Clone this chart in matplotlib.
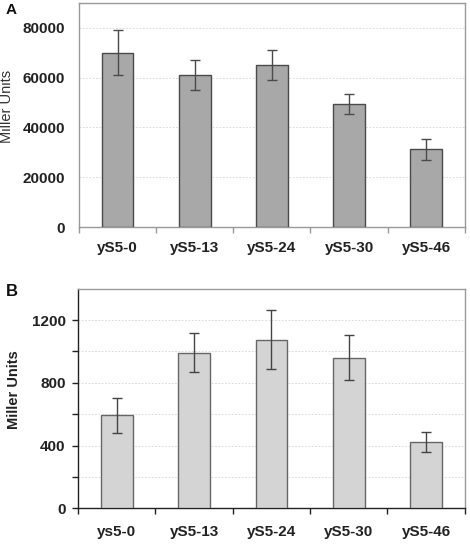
import numpy as np
import matplotlib.pyplot as plt

plt.rcParams['font.family'] = ['Liberation Sans', 'DejaVu Sans']

# panel A data
labels_a = ['yS5-0', 'yS5-13', 'yS5-24', 'yS5-30', 'yS5-46']
values_a = [70000, 61000, 65000, 49500, 31200]
errors_a = [9000, 6000, 6000, 3900, 4100]

# panel B data
labels_b = ['ys5-0', 'yS5-13', 'yS5-24', 'yS5-30', 'yS5-46']
values_b = [592, 993, 1076, 960, 420]
errors_b = [112, 124, 188, 145, 64]


def main():
	fig = plt.figure(figsize=(4.7, 5.44), dpi=100)
	ax_a = fig.add_axes([0.168, 0.5827, 0.821, 0.4118])
	ax_b = fig.add_axes([0.166, 0.0656, 0.823, 0.4037])

	x = np.arange(len(labels_a))
	spine_gray = '#999999'
	tick_style = dict(fontsize=11, fontweight='bold', color='#222222')

	# panel A
	ax_a.bar(x, values_a, width=0.41, color='#a8a8a8', edgecolor='#4a4a4a', linewidth=1.0, zorder=3)
	ax_a.errorbar(x, values_a, yerr=errors_a, fmt='none', ecolor='#4a4a4a',
		elinewidth=1.0, capsize=3.5, capthick=1.0, zorder=4)
	ax_a.set_xlim(-0.5, 4.5)
	ax_a.set_ylim(0, 90000)
	ax_a.set_yticks([0, 20000, 40000, 60000, 80000])
	ax_a.set_yticklabels(['0', '20000', '40000', '60000', '80000'], **tick_style)
	ax_a.set_xticks(x)
	ax_a.set_xticklabels(labels_a, **tick_style)
	ax_a.set_xticks(np.arange(-0.5, 5.0, 1.0), minor=True)
	ax_a.tick_params(axis='x', which='major', length=0, pad=10)
	ax_a.tick_params(axis='x', which='minor', length=4, color=spine_gray, width=1)
	ax_a.tick_params(axis='y', length=0, pad=10)
	for s in ax_a.spines.values():
		s.set_color(spine_gray)
		s.set_linewidth(1.0)
	for v in [20000, 40000, 60000, 80000]:
		ax_a.axhline(v, color='#d4d4d4', linestyle=(0, (2, 2)), linewidth=0.6, zorder=1)
	ax_a.set_ylabel('Miller Units', fontsize=10.5, color='#333333')
	ax_a.yaxis.set_label_coords(-0.168, 0.54)
	fig.text(0.012, 0.974, 'A', fontsize=11, fontweight='bold', color='#111111')

	# panel B
	ax_b.bar(x, values_b, width=0.41, color='#d4d4d4', edgecolor='#666666', linewidth=1.0, zorder=3)
	ax_b.errorbar(x, values_b, yerr=errors_b, fmt='none', ecolor='#444444',
		elinewidth=1.0, capsize=3.5, capthick=1.0, zorder=4)
	ax_b.set_xlim(-0.5, 4.5)
	ax_b.set_ylim(0, 1400)
	ax_b.set_yticks([0, 400, 800, 1200])
	ax_b.set_yticklabels(['0', '400', '800', '1200'], **tick_style)
	ax_b.set_yticks([200, 600, 1000], minor=True)
	ax_b.set_xticks(x)
	ax_b.set_xticklabels(labels_b, **tick_style)
	ax_b.set_xticks(np.arange(-0.5, 5.0, 1.0), minor=True)
	ax_b.tick_params(axis='x', which='major', length=0, pad=12)
	ax_b.tick_params(axis='x', which='minor', length=4, color='#222222', width=1)
	ax_b.tick_params(axis='y', which='both', length=4, color='#222222', width=1, pad=5)
	ax_b.spines['top'].set_color(spine_gray)
	ax_b.spines['right'].set_color(spine_gray)
	ax_b.spines['left'].set_color('#222222')
	ax_b.spines['bottom'].set_color('#222222')
	for s in ax_b.spines.values():
		s.set_linewidth(1.0)
	for v in [200, 400, 600, 800, 1000, 1200]:
		ax_b.axhline(v, color='#d4d4d4', linestyle=(0, (2, 2)), linewidth=0.6, zorder=1)
	ax_b.set_ylabel('Miller Units', fontsize=10.5, fontweight='bold', color='#222222')
	ax_b.yaxis.set_label_coords(-0.148, 0.54)
	fig.text(0.012, 0.455, 'B', fontsize=12, fontweight='bold', color='#111111')

	plt.savefig('out.png', dpi=100)


if __name__ == '__main__':
	main()
